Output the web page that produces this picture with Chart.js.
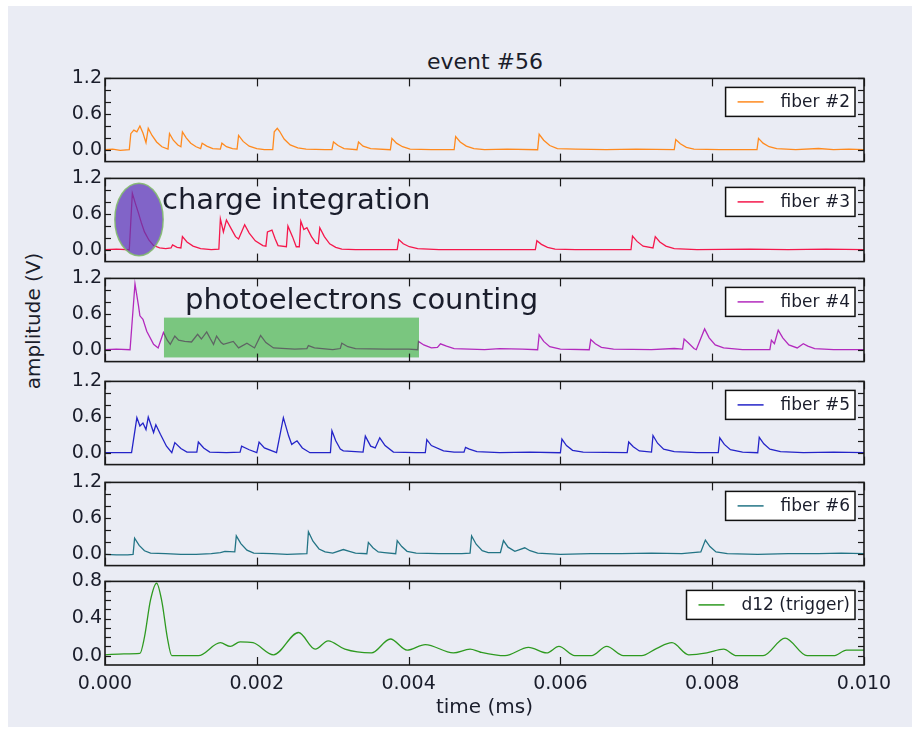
<!DOCTYPE html>
<html>
<head>
<meta charset="utf-8">
<script src="https://cdn.jsdelivr.net/npm/chart.js@4.4.1/dist/chart.umd.min.js"></script>
<style>
  body { margin: 0; background: #fff; font-family: 'DejaVu Sans', sans-serif; }
  #frame { position: absolute; left: 8px; top: 6px; width: 904px; height: 721px; background: #eaecf4; }
  canvas { position: absolute; left: 0; }
  .lbl { position: absolute; color: #1a1d2b; white-space: nowrap; text-align: center; }
  #title { left: 385px; top: 49px; width: 200px; font-size: 22px; line-height: 26px; }
  #ylabel { left: -67px; top: 309px; width: 200px; font-size: 20px; line-height: 24px; transform: rotate(-90deg); }
</style>
</head>
<body>
<div id="frame"></div>
<div class="lbl" id="title">event #56</div>
<div class="lbl" id="ylabel">amplitude (V)</div>
<script>
// axis ticks
const xTicks = [0, 0.002, 0.004, 0.006, 0.008, 0.01];
const fiberTicks = [0, 0.6, 1.2];
const fiberMinor = [0, 0.2, 0.4, 0.6, 0.8, 1.0, 1.2];
const triggerTicks = [0, 0.4, 0.8];
const triggerMinor = [0, 0.1, 0.2, 0.3, 0.4, 0.5, 0.6, 0.7, 0.8];

// series labels
const seriesLabels = ['fiber #2', 'fiber #3', 'fiber #4', 'fiber #5', 'fiber #6', 'd12 (trigger)'];

// [time (ms), amplitude (V)]
const fiber2 = [[0, 0], [0.0001, 0.01], [0.0002, -0.01], [0.00032, 0], [0.00034, 0.27], [0.00038, 0.33], [0.00042, 0.30],
  [0.00046, 0.40], [0.0005, 0.28], [0.00054, 0.12], [0.00057, 0.36], [0.00062, 0.24], [0.00068, 0.13], [0.00075, 0.05],
  [0.00083, 0.01], [0.00085, 0.27], [0.0009, 0.16], [0.00096, 0.08], [0.001, 0.05], [0.00102, 0.30], [0.00107, 0.20],
  [0.00113, 0.11], [0.0012, 0.05], [0.00126, 0.02], [0.00128, 0.11], [0.00134, 0.06], [0.00142, 0.02], [0.00152, 0.01],
  [0.00154, 0.11], [0.0016, 0.05], [0.00168, 0.02], [0.00174, 0.01], [0.00176, 0.24], [0.00182, 0.14], [0.0019, 0.06],
  [0.002, 0.02], [0.0021, 0], [0.00221, 0], [0.00223, 0.30], [0.00227, 0.36], [0.0023, 0.31], [0.00236, 0.18],
  [0.00244, 0.08], [0.00254, 0.03], [0.00265, 0.01], [0.0029, 0], [0.00299, 0], [0.00301, 0.13], [0.00307, 0.07],
  [0.00315, 0.02], [0.00332, 0], [0.00334, 0.13], [0.0034, 0.06], [0.0035, 0.02], [0.00376, 0], [0.00378, 0.19],
  [0.00384, 0.11], [0.00392, 0.05], [0.00402, 0.01], [0.0043, 0], [0.0046, 0], [0.00462, 0.22], [0.00468, 0.13],
  [0.00476, 0.06], [0.00486, 0.02], [0.005, 0], [0.0053, 0.01], [0.0057, 0], [0.00572, 0.26], [0.00578, 0.16],
  [0.00586, 0.07], [0.00596, 0.02], [0.0062, 0.01], [0.0066, 0], [0.007, 0.01], [0.0075, 0], [0.00752, 0.17],
  [0.00758, 0.10], [0.00766, 0.04], [0.00776, 0.01], [0.0081, 0], [0.00859, 0], [0.00861, 0.19], [0.00867, 0.11],
  [0.00875, 0.05], [0.00885, 0.02], [0.0091, 0], [0.0094, 0.02], [0.0096, 0], [0.0098, 0.01], [0.01, 0]];

const fiber3 = [[0, 0], [0.00015, 0.01], [0.00032, 0], [0.00036, 0.95], [0.0004, 0.78], [0.00044, 0.62], [0.00048, 0.45],
  [0.00052, 0.30], [0.00058, 0.16], [0.00064, 0.07], [0.00072, 0.03], [0.0008, 0.02], [0.00087, 0.03], [0.00089, 0.08],
  [0.00095, 0.04], [0.001, 0.03], [0.00102, 0.22], [0.00108, 0.13], [0.00116, 0.06], [0.00126, 0.02], [0.0014, 0],
  [0.0015, 0.01], [0.00152, 0.52], [0.00156, 0.30], [0.0016, 0.50], [0.00166, 0.36], [0.00172, 0.22], [0.00176, 0.18],
  [0.00184, 0.42], [0.0019, 0.28], [0.00198, 0.15], [0.00208, 0.07], [0.00212, 0.06], [0.00214, 0.30], [0.0022, 0.33],
  [0.00224, 0.19], [0.00228, 0.07], [0.00239, 0.05], [0.00241, 0.40], [0.00247, 0.22], [0.00252, 0.05], [0.00256, 0.05],
  [0.00258, 0.48], [0.00262, 0.34], [0.00266, 0.37], [0.00272, 0.22], [0.00278, 0.11], [0.00281, 0.10], [0.00283, 0.37],
  [0.00289, 0.22], [0.00296, 0.10], [0.00304, 0.04], [0.00312, 0.01], [0.0033, 0], [0.0036, 0], [0.00385, 0],
  [0.00387, 0.17], [0.00393, 0.10], [0.00401, 0.05], [0.00412, 0.02], [0.0044, 0], [0.005, 0], [0.00567, 0],
  [0.00569, 0.15], [0.00575, 0.09], [0.00583, 0.04], [0.00593, 0.01], [0.0062, 0], [0.00693, 0], [0.00695, 0.23],
  [0.00701, 0.14], [0.00709, 0.06], [0.00722, 0.03], [0.00725, 0.22], [0.00731, 0.13], [0.00739, 0.06], [0.0075, 0.02],
  [0.0078, 0], [0.0085, 0.01], [0.009, 0], [0.0095, 0.01], [0.01, 0]];

const fiber4 = [[0, 0], [0.00015, 0.01], [0.00033, 0], [0.000395, 1.11], [0.00044, 0.75], [0.00046, 0.57], [0.0005, 0.51],
  [0.00055, 0.31], [0.00064, 0.09], [0.0007, 0.03], [0.00077, 0.29], [0.00082, 0.16], [0.00086, 0.09], [0.00092, 0.23],
  [0.00097, 0.16], [0.00105, 0.14], [0.00114, 0.13], [0.00122, 0.26], [0.00127, 0.18], [0.00134, 0.30], [0.00139, 0.18],
  [0.00143, 0.09], [0.00147, 0.23], [0.00153, 0.12], [0.00156, 0.09], [0.00169, 0.14], [0.00176, 0.03], [0.00187, 0.11],
  [0.00197, 0.03], [0.00205, 0.24], [0.00212, 0.12], [0.00222, 0.03], [0.0025, 0.01], [0.00266, 0.02], [0.00268, 0.07],
  [0.00276, 0.03], [0.003, 0], [0.0031, 0.02], [0.00312, 0.11], [0.0032, 0.05], [0.0033, 0.02], [0.0037, 0.01],
  [0.004, 0.01], [0.00412, 0], [0.00413, 0.14], [0.0042, 0.08], [0.0043, 0.03], [0.00438, 0.04], [0.00442, 0.10],
  [0.0045, 0.06], [0.0046, 0.02], [0.005, 0], [0.0052, 0.02], [0.0055, 0.01], [0.0057, 0], [0.00572, 0.25],
  [0.00578, 0.14], [0.00586, 0.05], [0.006, 0.01], [0.00638, 0], [0.0064, 0.17], [0.00646, 0.10], [0.00654, 0.04],
  [0.0067, 0.01], [0.0072, 0], [0.0075, 0.02], [0.00761, 0.01], [0.00763, 0.18], [0.00768, 0.12], [0.00776, 0.02],
  [0.00779, 0], [0.0079, 0.35], [0.00796, 0.20], [0.00804, 0.08], [0.00815, 0.03], [0.0084, 0], [0.00876, 0],
  [0.00878, 0.16], [0.00882, 0.10], [0.00887, 0.33], [0.00893, 0.20], [0.00901, 0.08], [0.00912, 0.03], [0.0092, 0.10],
  [0.00926, 0.06], [0.00935, 0.02], [0.0096, 0], [0.01, 0]];

const fiber5 = [[0, 0], [0.0002, 0], [0.00035, 0], [0.00042, 0.59], [0.00046, 0.45], [0.0005, 0.50], [0.00054, 0.39],
  [0.00057, 0.60], [0.00064, 0.34], [0.00067, 0.47], [0.00073, 0.31], [0.00081, 0.11], [0.00088, 0], [0.00092, 0.17],
  [0.001, 0.07], [0.00108, 0.01], [0.00121, 0.01], [0.00123, 0.18], [0.0013, 0.08], [0.00138, 0.01], [0.0016, 0],
  [0.00178, 0.01], [0.0018, 0.11], [0.0019, 0.05], [0.002, 0], [0.00203, 0.18], [0.0021, 0.08], [0.00226, 0],
  [0.00235, 0.59], [0.00242, 0.28], [0.00246, 0.14], [0.00253, 0.20], [0.0026, 0.08], [0.0027, 0], [0.00297, 0],
  [0.00299, 0.37], [0.00304, 0.20], [0.0031, 0.06], [0.00314, 0.03], [0.0034, 0.01], [0.00343, 0.28], [0.0035, 0.11],
  [0.00356, 0.08], [0.00362, 0.25], [0.00369, 0.12], [0.0038, 0.01], [0.0041, 0], [0.00422, 0], [0.00424, 0.22],
  [0.0043, 0.12], [0.00446, 0.03], [0.0046, 0.01], [0.00473, 0.01], [0.00475, 0.09], [0.0048, 0.06], [0.0049, 0.02],
  [0.0052, 0], [0.0056, 0.01], [0.006, 0], [0.00602, 0.23], [0.00608, 0.12], [0.00616, 0.04], [0.0063, 0.01],
  [0.00688, 0], [0.0069, 0.18], [0.00696, 0.10], [0.00704, 0.03], [0.0072, 0.01], [0.00722, 0.29], [0.00728, 0.16],
  [0.00736, 0.06], [0.0075, 0.02], [0.0078, 0], [0.00808, 0], [0.0081, 0.25], [0.00816, 0.14], [0.00824, 0.05],
  [0.0084, 0.01], [0.0086, 0], [0.00862, 0.26], [0.00868, 0.15], [0.00876, 0.06], [0.0089, 0.02], [0.0092, 0],
  [0.0096, 0.01], [0.01, 0]];

const fiber6 = [[0, -0.01], [0.00015, -0.02], [0.0003, -0.02], [0.00037, -0.01], [0.00039, 0.26], [0.00045, 0.14],
  [0.00052, 0.05], [0.0006, 0.01], [0.0008, 0], [0.001, -0.01], [0.0012, -0.01], [0.0014, 0], [0.00152, 0.02],
  [0.00158, 0.04], [0.00171, 0.03], [0.00173, 0.30], [0.00179, 0.17], [0.00187, 0.06], [0.00196, 0.01], [0.0022, 0],
  [0.0024, -0.01], [0.00266, 0], [0.00268, 0.37], [0.00274, 0.21], [0.00282, 0.08], [0.0029, 0.03], [0.003, 0.01],
  [0.00314, 0.07], [0.00322, 0.04], [0.0033, 0.01], [0.00345, 0], [0.00347, 0.19], [0.00353, 0.10], [0.0036, 0.03],
  [0.00368, 0.02], [0.00383, 0], [0.00385, 0.22], [0.00391, 0.12], [0.00398, 0.04], [0.0041, 0.01], [0.0044, 0],
  [0.0047, 0], [0.00481, 0.01], [0.00483, 0.30], [0.00489, 0.16], [0.00497, 0.05], [0.00505, 0.02], [0.00521, 0.02],
  [0.00525, 0.22], [0.00531, 0.11], [0.0054, 0.04], [0.00553, 0.10], [0.0056, 0.05], [0.0057, 0.01], [0.006, -0.01],
  [0.0064, 0], [0.0068, 0], [0.0072, 0.01], [0.0076, 0], [0.00785, 0.03], [0.00791, 0.23], [0.00797, 0.12],
  [0.00805, 0.03], [0.0082, 0], [0.0086, -0.01], [0.009, 0], [0.0094, 0], [0.0097, 0.01], [0.01, 0]];

const trigger = [[0, 0.01], [0.00025, 0.02], [0.00046, 0.025], [0.00052, 0.2], [0.0006, 0.6], [0.00068, 0.78],
  [0.00075, 0.58], [0.00082, 0.2], [0.00088, 0], [0.00123, 0], [0.00152, 0.14], [0.00165, 0.10], [0.00178, 0.15],
  [0.00195, 0.14], [0.00222, 0.01], [0.00255, 0.25], [0.00277, 0.07], [0.00294, 0.16], [0.00316, 0.07], [0.00351, 0.03],
  [0.00376, 0.18], [0.00398, 0.06], [0.00422, 0.12], [0.00459, 0.03], [0.00481, 0.07], [0.00494, 0.04], [0.00527, 0],
  [0.00558, 0.09], [0.00582, 0.03], [0.00598, 0.10], [0.00619, 0], [0.00641, 0], [0.00661, 0.10], [0.00683, 0],
  [0.00707, 0], [0.00727, 0.08], [0.00747, 0.14], [0.00769, 0.01], [0.00793, 0.03], [0.00815, 0.07], [0.00832, 0],
  [0.00867, 0], [0.00896, 0.19], [0.00925, 0], [0.0096, 0], [0.00977, 0.06], [0.01, 0.06]];

Chart.defaults.font.family = '"DejaVu Sans", sans-serif';
Chart.defaults.color = '#1a1d2b';

function line(ctx, x1, y1, x2, y2) {
  ctx.beginPath();
  ctx.moveTo(x1, y1);
  ctx.lineTo(x2, y2);
  ctx.stroke();
}

// purple ellipse over the first fiber #3 pulse
function drawCharge(chart) {
  const { ctx, scales: { x, y } } = chart;
  const cx = x.getPixelForValue(0.000448);
  const cy = y.getPixelForValue(0.51);
  const rx = x.getPixelForValue(0.000448 + 0.000318) - cx;
  const ry = cy - y.getPixelForValue(0.51 + 0.61);
  ctx.save();
  ctx.beginPath();
  ctx.ellipse(cx, cy, rx, ry, 0, 0, Math.PI * 2);
  ctx.fillStyle = 'rgba(93, 55, 185, 0.75)';
  ctx.fill();
  ctx.strokeStyle = 'rgba(130, 185, 110, 0.9)';
  ctx.lineWidth = 1.5;
  ctx.stroke();
  ctx.fillStyle = '#1a1d2b';
  ctx.font = '29px "DejaVu Sans"';
  ctx.textBaseline = 'alphabetic';
  ctx.fillText('charge integration', x.getPixelForValue(0.000751), y.getPixelForValue(0.69));
  ctx.restore();
}

// green band over the fiber #4 single photoelectron pulses
function drawCounting(chart) {
  const { ctx, scales: { x, y } } = chart;
  const x1 = x.getPixelForValue(0.000777), x2 = x.getPixelForValue(0.004137);
  const y1 = y.getPixelForValue(0.54), y2 = y.getPixelForValue(-0.13);
  ctx.save();
  ctx.fillStyle = 'rgba(10, 160, 10, 0.5)';
  ctx.fillRect(x1, y1, x2 - x1, y2 - y1);
  ctx.fillStyle = '#1a1d2b';
  ctx.font = '29px "DejaVu Sans"';
  ctx.fillText('photoelectrons counting', x.getPixelForValue(0.001054), y.getPixelForValue(0.69));
  ctx.restore();
}

const panels = [
  { data: fiber2, color: '#ff8a1e', top: 78, min: -0.2, max: 1.2, ticks: fiberTicks, minor: fiberMinor },
  { data: fiber3, color: '#f5174b', top: 178, min: -0.2, max: 1.2, ticks: fiberTicks, minor: fiberMinor, note: drawCharge },
  { data: fiber4, color: '#b32abd', top: 278, min: -0.2, max: 1.2, ticks: fiberTicks, minor: fiberMinor, note: drawCounting },
  { data: fiber5, color: '#2424c8', top: 381, min: -0.2, max: 1.2, ticks: fiberTicks, minor: fiberMinor },
  { data: fiber6, color: '#237485', top: 482, min: -0.2, max: 1.2, ticks: fiberTicks, minor: fiberMinor },
  { data: trigger, color: '#2e9a20', top: 581, min: -0.1, max: 0.8, ticks: triggerTicks, minor: triggerMinor, last: true, smooth: true }
];

panels.forEach((p, i) => {
  const canvas = document.createElement('canvas');
  canvas.width = 917;
  canvas.height = p.last ? 14 + 84 + 60 : 112;
  canvas.style.top = (p.top - 14) + 'px';
  document.body.appendChild(canvas);
  const label = seriesLabels[i];

  // frame, inward ticks, legend box and notes
  const framePlugin = {
    id: 'frame' + i,
    afterDatasetsDraw(chart) {
      const { ctx, chartArea: a, scales: { x, y } } = chart;
      if (p.note) p.note(chart);

      // legend
      ctx.save();
      ctx.font = '17px "DejaVu Sans"';
      const tw = ctx.measureText(label).width;
      const bw = 12 + 26 + 17 + tw + 5, bh = 29;
      const bx = a.right - 9 - bw, by = a.top + 9;
      ctx.fillStyle = '#fff';
      ctx.fillRect(bx, by, bw, bh);
      ctx.strokeStyle = '#111';
      ctx.lineWidth = 1.5;
      ctx.strokeRect(bx, by, bw, bh);
      ctx.strokeStyle = p.color;
      ctx.lineWidth = 1.5;
      line(ctx, bx + 12, by + bh / 2, bx + 38, by + bh / 2);
      ctx.fillStyle = '#1a1d2b';
      ctx.textBaseline = 'middle';
      ctx.fillText(label, bx + 55, by + bh / 2 + 1);

      // ticks
      ctx.strokeStyle = '#1a1a1a';
      ctx.lineWidth = 1.2;
      xTicks.forEach(v => {
        const px = Math.round(x.getPixelForValue(v)) + 0.5;
        line(ctx, px, a.top, px, a.top + 8);
        line(ctx, px, a.bottom, px, a.bottom - 8);
      });
      p.minor.forEach(v => {
        const py = Math.round(y.getPixelForValue(v)) + 0.5;
        line(ctx, a.left, py, a.left + 6, py);
        line(ctx, a.right, py, a.right - 6, py);
      });
      ctx.lineWidth = 1.6;
      ctx.strokeRect(a.left, a.top, a.right - a.left, a.bottom - a.top);
      ctx.restore();
    }
  };

  new Chart(canvas, {
    type: 'line',
    data: {
      datasets: [{
        label: label,
        data: p.data.map(([t, v]) => ({ x: t, y: v })),
        borderColor: p.color,
        borderWidth: 1.3,
        pointRadius: 0,
        tension: p.smooth ? 0.4 : 0,
        cubicInterpolationMode: p.smooth ? 'monotone' : 'default',
      }],
    },
    options: {
      responsive: false,
      animation: false,
      layout: { padding: { left: 0, right: 53, top: 14, bottom: p.last ? 0 : 14 } },
      plugins: { legend: { display: false }, tooltip: { enabled: false } },
      scales: {
        x: {
          type: 'linear',
          min: 0,
          max: 0.01,
          display: !!p.last,
          grid: { display: false, drawTicks: false },
          border: { display: false },
          afterBuildTicks: axis => { axis.ticks = xTicks.map(value => ({ value })); },
          afterFit: axis => { axis.height = p.last ? 60 : 0; },
          ticks: { font: { size: 19 }, padding: 8, maxRotation: 0, callback: v => v.toFixed(3) },
          title: { display: true, text: 'time (ms)', font: { size: 20 }, padding: { top: 4, bottom: 5 } },
        },
        y: {
          min: p.min,
          max: p.max,
          grid: { display: false, drawTicks: false },
          border: { display: false },
          afterBuildTicks: axis => { axis.ticks = p.ticks.map(value => ({ value })); },
          afterFit: axis => { axis.width = 105; },
          ticks: { font: { size: 19 }, padding: 3, callback: v => v.toFixed(1) },
        },
      },
    },
    plugins: [framePlugin],
  });
});
</script>
</body>
</html>
